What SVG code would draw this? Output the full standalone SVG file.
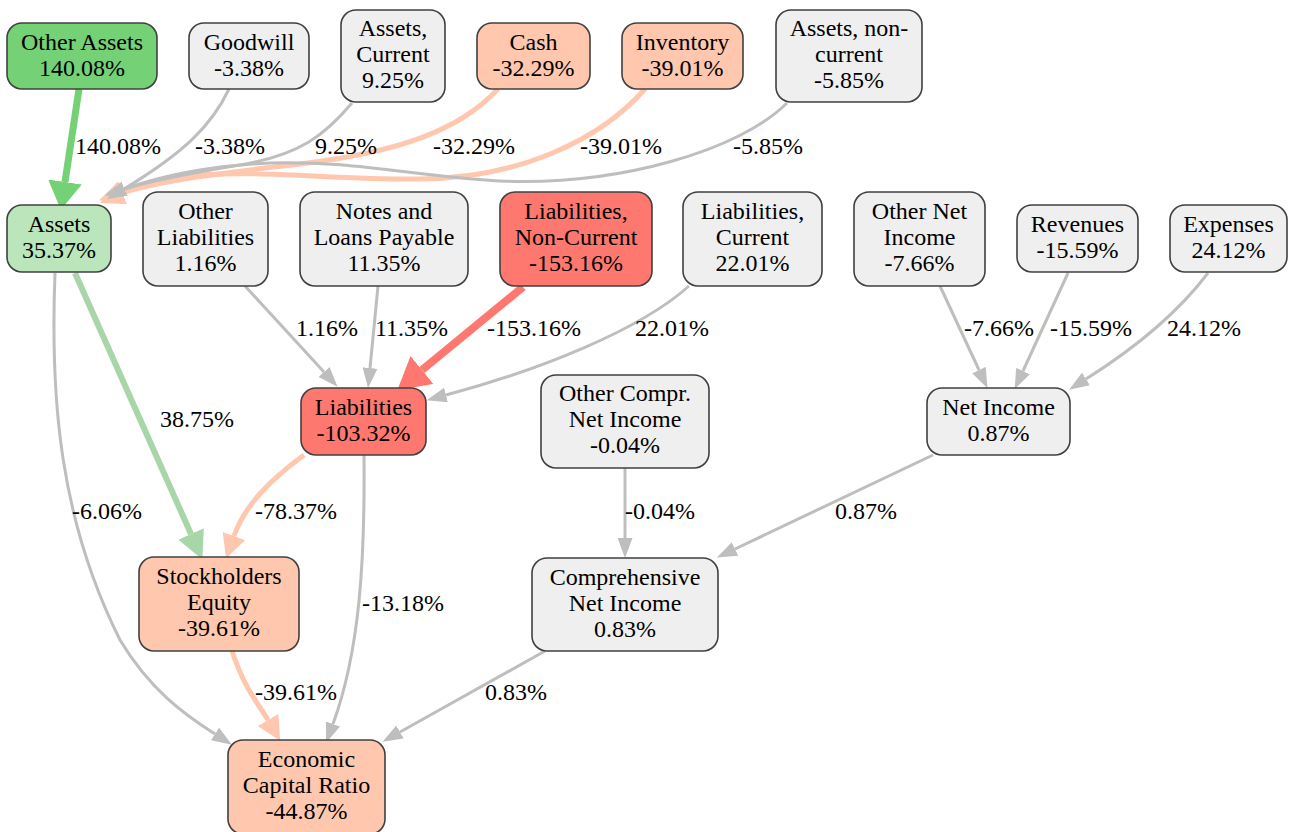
<svg xmlns="http://www.w3.org/2000/svg" width="1291" height="832" viewBox="0 0 1291 832">
<style>
text{font-family:'Liberation Serif','Times New Roman',serif;font-size:24px;fill:#000}
.n text{text-anchor:middle}
.n rect{stroke:#404040;stroke-width:1.6}
.g{fill:#efefef}.gr{fill:#74d175}.lg{fill:#bbe5bb}.pe{fill:#fec7ae}.rd{fill:#fe7870}
.e{fill:none}
.eg{stroke:#bebebe;stroke-width:3}
.egr{stroke:#74d175;stroke-width:7}
.elg{stroke:#a9d6a9;stroke-width:6}
.epe{stroke:#fec7ae;stroke-width:5}
.erd{stroke:#fe7870;stroke-width:8}
</style>
<defs>
<marker id="ag" viewBox="0 0 20 15" refX="0" refY="7.5" markerWidth="20" markerHeight="15" markerUnits="userSpaceOnUse" orient="auto"><path d="M0,0L20,7.5L0,15z" fill="#bebebe"/></marker>
<marker id="agr" viewBox="0 0 28 34" refX="0" refY="17" markerWidth="28" markerHeight="34" markerUnits="userSpaceOnUse" orient="auto"><path d="M0,0L28,17L0,34z" fill="#74d175"/></marker>
<marker id="alg" viewBox="0 0 28 28" refX="0" refY="14" markerWidth="28" markerHeight="28" markerUnits="userSpaceOnUse" orient="auto"><path d="M0,0L28,14L0,28z" fill="#a9d6a9"/></marker>
<marker id="ape" viewBox="0 0 24 24" refX="0" refY="12" markerWidth="24" markerHeight="24" markerUnits="userSpaceOnUse" orient="auto"><path d="M0,0L24,12L0,24z" fill="#fec7ae"/></marker>
<marker id="ard" viewBox="0 0 32 36" refX="0" refY="18" markerWidth="32" markerHeight="36" markerUnits="userSpaceOnUse" orient="auto"><path d="M0,0L32,18L0,36z" fill="#fe7870"/></marker>
</defs>
<rect width="1291" height="832" fill="#fff"/>
<g id="connectors">
<path class="e egr" d="M79,89 L65,182" marker-end="url(#agr)"/>
<path class="e epe" d="M645,89 C600,140 520,178 420,179 C330,180 250,168 180,177 C155,181 135,187 122,193" marker-end="url(#ape)"/>
<path class="e epe" d="M498,89 C460,130 400,152 300,164 C220,173 160,181 122,193" marker-end="url(#ape)"/>
<path class="e eg" d="M229,89 C212,125 185,152 124,189" marker-end="url(#ag)"/>
<path class="e eg" d="M352,103 C325,135 300,155 240,165 C185,174 150,181 124,189" marker-end="url(#ag)"/>
<path class="e eg" d="M787,103 C740,150 620,186 500,181 C420,177 350,160 270,163 C200,166 155,178 124,189" marker-end="url(#ag)"/>
<path class="e eg" d="M245,286 L324,372" marker-end="url(#ag)"/>
<path class="e eg" d="M378,286 L370,368" marker-end="url(#ag)"/>
<path class="e erd" d="M523,287 L422,370" marker-end="url(#ard)"/>
<path class="e eg" d="M689,286 C640,330 540,370 446,395" marker-end="url(#ag)"/>
<path class="e eg" d="M940,286 L979,370" marker-end="url(#ag)"/>
<path class="e eg" d="M1068,273 L1023,371" marker-end="url(#ag)"/>
<path class="e eg" d="M1208,273 C1180,310 1140,345 1086,379" marker-end="url(#ag)"/>
<path class="e elg" d="M75,273 L191,534" marker-end="url(#alg)"/>
<path class="e eg" d="M55,273 C50,400 60,520 120,640 C150,690 185,715 215,734" marker-end="url(#ag)"/>
<path class="e epe" d="M304,455 C270,480 245,505 234,536" marker-end="url(#ape)"/>
<path class="e eg" d="M364,455 C365,560 360,650 333,724" marker-end="url(#ag)"/>
<path class="e epe" d="M232,651 C245,690 258,703 268,720" marker-end="url(#ape)"/>
<path class="e eg" d="M625,468 L625,538" marker-end="url(#ag)"/>
<path class="e eg" d="M933,455 L735,549" marker-end="url(#ag)"/>
<path class="e eg" d="M545,651 L400,732" marker-end="url(#ag)"/>
<text x="75" y="154">140.08%</text>
<text x="195" y="154">-3.38%</text>
<text x="315" y="154">9.25%</text>
<text x="433" y="154">-32.29%</text>
<text x="580" y="154">-39.01%</text>
<text x="733" y="154">-5.85%</text>
<text x="296" y="336">1.16%</text>
<text x="375" y="336">11.35%</text>
<text x="487" y="336">-153.16%</text>
<text x="635" y="336">22.01%</text>
<text x="964" y="336">-7.66%</text>
<text x="1050" y="336">-15.59%</text>
<text x="1167" y="336">24.12%</text>
<text x="160" y="427">38.75%</text>
<text x="72" y="519">-6.06%</text>
<text x="255" y="519">-78.37%</text>
<text x="362" y="611">-13.18%</text>
<text x="255" y="700">-39.61%</text>
<text x="625" y="519">-0.04%</text>
<text x="835" y="519">0.87%</text>
<text x="485" y="700">0.83%</text>
</g>
<g id="other_assets" class="n"><rect class="gr" x="7" y="23" width="150" height="66" rx="15"/><text x="82" y="50">Other Assets</text><text x="82" y="76">140.08%</text></g>
<g id="goodwill" class="n"><rect class="g" x="189" y="23" width="120" height="66" rx="15"/><text x="249" y="50">Goodwill</text><text x="249" y="76">-3.38%</text></g>
<g id="assets_current" class="n"><rect class="g" x="341" y="10" width="104" height="92" rx="15"/><text x="393" y="36">Assets,</text><text x="393" y="62">Current</text><text x="393" y="88">9.25%</text></g>
<g id="cash" class="n"><rect class="pe" x="477" y="23" width="113" height="66" rx="15"/><text x="533.5" y="50">Cash</text><text x="533.5" y="76">-32.29%</text></g>
<g id="inventory" class="n"><rect class="pe" x="622" y="23" width="121" height="66" rx="15"/><text x="682.5" y="50">Inventory</text><text x="682.5" y="76">-39.01%</text></g>
<g id="assets_noncurrent" class="n"><rect class="g" x="776" y="10" width="146" height="92" rx="15"/><text x="849" y="36">Assets, non-</text><text x="849" y="62">current</text><text x="849" y="88">-5.85%</text></g>
<g id="assets" class="n"><rect class="lg" x="7" y="205" width="104" height="67" rx="15"/><text x="59" y="232">Assets</text><text x="59" y="258">35.37%</text></g>
<g id="other_liabilities" class="n"><rect class="g" x="143" y="192" width="125" height="94" rx="15"/><text x="205.5" y="219">Other</text><text x="205.5" y="245">Liabilities</text><text x="205.5" y="271">1.16%</text></g>
<g id="notes_loans" class="n"><rect class="g" x="300" y="192" width="168" height="94" rx="15"/><text x="384" y="219">Notes and</text><text x="384" y="245">Loans Payable</text><text x="384" y="271">11.35%</text></g>
<g id="liabilities_noncurrent" class="n"><rect class="rd" x="500" y="192" width="152" height="94" rx="15"/><text x="576" y="219">Liabilities,</text><text x="576" y="245">Non-Current</text><text x="576" y="271">-153.16%</text></g>
<g id="liabilities_current" class="n"><rect class="g" x="683" y="192" width="139" height="94" rx="15"/><text x="752.5" y="219">Liabilities,</text><text x="752.5" y="245">Current</text><text x="752.5" y="271">22.01%</text></g>
<g id="other_net_income" class="n"><rect class="g" x="854" y="192" width="131" height="94" rx="15"/><text x="919.5" y="219">Other Net</text><text x="919.5" y="245">Income</text><text x="919.5" y="271">-7.66%</text></g>
<g id="revenues" class="n"><rect class="g" x="1017" y="205" width="121" height="67" rx="15"/><text x="1077.5" y="232">Revenues</text><text x="1077.5" y="258">-15.59%</text></g>
<g id="expenses" class="n"><rect class="g" x="1170" y="205" width="117" height="67" rx="15"/><text x="1228.5" y="232">Expenses</text><text x="1228.5" y="258">24.12%</text></g>
<g id="liabilities" class="n"><rect class="rd" x="301" y="388" width="125" height="67" rx="15"/><text x="363.5" y="415">Liabilities</text><text x="363.5" y="441">-103.32%</text></g>
<g id="other_compr_net_income" class="n"><rect class="g" x="541" y="375" width="168" height="93" rx="15"/><text x="625" y="401">Other Compr.</text><text x="625" y="427">Net Income</text><text x="625" y="453">-0.04%</text></g>
<g id="net_income" class="n"><rect class="g" x="927" y="388" width="143" height="67" rx="15"/><text x="998.5" y="415">Net Income</text><text x="998.5" y="441">0.87%</text></g>
<g id="stockholders_equity" class="n"><rect class="pe" x="139" y="557" width="160" height="94" rx="15"/><text x="219" y="584">Stockholders</text><text x="219" y="610">Equity</text><text x="219" y="636">-39.61%</text></g>
<g id="comprehensive_net_income" class="n"><rect class="g" x="532" y="558" width="186" height="93" rx="15"/><text x="625" y="585">Comprehensive</text><text x="625" y="611">Net Income</text><text x="625" y="637">0.83%</text></g>
<g id="economic_capital_ratio" class="n"><rect class="pe" x="228" y="740" width="157" height="94" rx="15"/><text x="306.5" y="767">Economic</text><text x="306.5" y="793">Capital Ratio</text><text x="306.5" y="819">-44.87%</text></g>
</svg>
